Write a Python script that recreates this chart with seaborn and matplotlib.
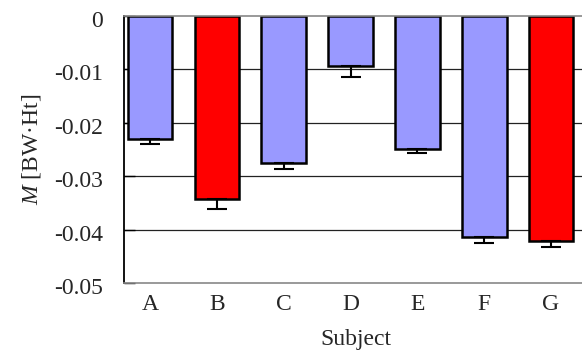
import matplotlib
matplotlib.use("Agg")
import matplotlib.pyplot as plt
import matplotlib.transforms as mtransforms
import seaborn as sns
import numpy as np
import pandas as pd

subjects = ["A", "B", "C", "D", "E", "F", "G"]
values = [-0.0230, -0.0343, -0.0275, -0.0094, -0.0249, -0.0414, -0.0421]
errors = [0.0010, 0.0018, 0.0012, 0.0020, 0.0008, 0.0011, 0.0012]
colors = ["#9999FF", "#FF0000", "#9999FF", "#9999FF", "#9999FF", "#9999FF", "#FF0000"]
yticks = [0, -0.01, -0.02, -0.03, -0.04, -0.05]
ytick_labels = ["0", "-0.01", "-0.02", "-0.03", "-0.04", "-0.05"]

sns.set_theme(style="white")
plt.rcParams["font.family"] = ["Liberation Serif", "DejaVu Serif"]
plt.rcParams["mathtext.fontset"] = "custom"
plt.rcParams["mathtext.it"] = "Liberation Serif:italic"
plt.rcParams["mathtext.rm"] = "Liberation Serif"
plt.rcParams["axes.unicode_minus"] = False

df = pd.DataFrame({"Subject": subjects, "M": values})

fig = plt.figure(figsize=(5.82, 3.52), dpi=100)
ax = fig.add_axes([124 / 582, 1 - 283 / 352, (582 - 124) / 582 + 0.01, (283 - 16) / 352])

for y in yticks[1:-1]:
    ax.axhline(y, color="#222222", lw=0.9, zorder=0)

sns.barplot(data=df, x="Subject", y="M", hue="Subject", palette=colors,
            legend=False, width=0.67, edgecolor="black", linewidth=1.8,
            saturation=1, ax=ax, zorder=2)

ax.errorbar(np.arange(len(subjects)), values, yerr=[errors, [0] * len(errors)],
            fmt="none", ecolor="black", elinewidth=1.5, capsize=7, capthick=1.5, zorder=3)

ax.set_xlim(-0.39, 6.55)
ax.set_ylim(-0.05, 0)
ax.set_yticks(yticks)
ax.set_yticklabels(ytick_labels)
ax.tick_params(axis="y", direction="in", length=8, width=1, color="black", pad=15,
               labelsize=17, left=True)
ax.tick_params(axis="x", length=0, pad=8, labelsize=17)

offset = mtransforms.ScaledTranslation(0, -3 / 100, fig.dpi_scale_trans)
for lbl in ax.get_yticklabels():
    lbl.set_transform(lbl.get_transform() + offset)

for s in ["top", "bottom", "right"]:
    ax.spines[s].set_color("#888888")
    ax.spines[s].set_linewidth(1.2)
ax.spines["right"].set_visible(False)
ax.spines["left"].set_color("black")
ax.spines["left"].set_linewidth(1.3)

ax.set_xlabel("Subject", fontsize=17, labelpad=10)
ax.set_ylabel(r"$M$ [BW·Ht]", fontsize=17, labelpad=8)

fig.savefig("out.png", dpi=100)
